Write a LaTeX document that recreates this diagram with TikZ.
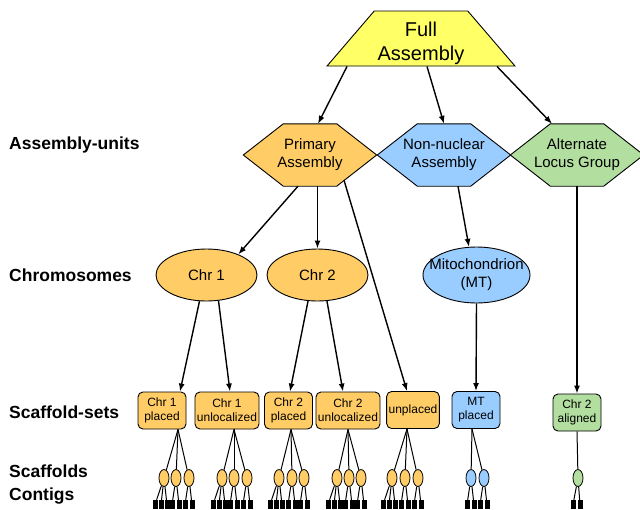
\documentclass[tikz,border=0pt]{standalone}
\usepackage{fontspec}
\setmainfont{Liberation Sans}
\usetikzlibrary{positioning,arrows.meta,shapes.geometric,backgrounds}
\definecolor{fullyellow}{HTML}{FFFF66}
\definecolor{primorange}{HTML}{FFCC66}
\definecolor{nucblue}{HTML}{99CCFF}
\definecolor{altgreen}{HTML}{B2DE9F}

\begin{document}
\begin{tikzpicture}[x=1pt, y=-1pt,
    every node/.style={align=center, inner sep=0pt},
    lvl/.style={font=\bfseries\fontsize{17.5}{21}\selectfont, anchor=west},
    full/.style={trapezium, trapezium angle=50, trapezium stretches=true,
                 draw=black, line width=0.9pt, fill=fullyellow,
                 minimum width=188, minimum height=55,
                 font=\fontsize{20}{24}\selectfont},
    unit/.style={minimum width=133, minimum height=62, font=\fontsize{15}{18}\selectfont},
    chrom/.style={ellipse, draw=black, line width=0.9pt, fill=#1, minimum width=101,
                  minimum height=52, font=\fontsize{15}{18}\selectfont},
    sset/.style={rectangle, rounded corners=5pt, draw=black, line width=0.9pt, fill=#1,
                 minimum width=48, minimum height=37, inner xsep=2,
                 font=\fontsize{12}{14}\selectfont},
    scaf/.style={ellipse, draw=black, line width=0.8pt, fill=#1, minimum width=10,
                 minimum height=17},
    ctg/.style={rectangle, fill=black, minimum width=5, minimum height=9},
    arr/.style={-{Latex[length=8pt, width=6pt]}, line width=1.4pt},
    fan/.style={line width=1pt}
  ]
  \useasboundingbox (0,0) rectangle (640,509);

  % ---- level names, left column ------------------------------------------
  \node[lvl] (lau) at (9,145) {Assembly-units};
  \node[lvl] (lchr) at (9,275) {Chromosomes};
  \node[lvl] (lss) at (9,412) {Scaffold-sets};
  \node[lvl] (lsc) at (9,471) {Scaffolds};
  \node[lvl] (lct) at (9,496) {Contigs};

  % ---- assembly and assembly-units ----------------------------------------
  \node[full] (fa) at (421,38.5) {\rule{0pt}{24pt}Full\\Assembly};
  \node[unit] (pa) at (310,155) {Primary\\Assembly};
  \node[unit] (nn) at (444,155) {Non-nuclear\\Assembly};
  \node[unit] (al) at (577,155) {Alternate\\Locus Group};
  \begin{scope}[on background layer]
    \foreach \u/\c in {pa/primorange, nn/nucblue, al/altgreen}
      \draw[line width=0.9pt, fill=\c] (\u.west) -- ([xshift=40]\u.north west)
        -- ([xshift=-40]\u.north east) -- (\u.east) -- ([xshift=-40]\u.south east)
        -- ([xshift=40]\u.south west) -- cycle;
  \end{scope}

  % ---- chromosomes --------------------------------------------------------
  \node[chrom=primorange] (c1) at (206.5,275) {Chr 1};
  \node[chrom=primorange] (c2) at (317.5,275) {Chr 2};
  \node[chrom=nucblue, minimum width=107, minimum height=56, inner xsep=-20pt]
    (mt) at (476.5,275) {Mitochondrion\\(MT)};

  % ---- scaffold-sets ------------------------------------------------------
  \node[sset=primorange] (s1) at (162,410.5) {Chr 1\\placed};
  \node[sset=primorange] (s2) at (227,410.5) {Chr 1\\unlocalized};
  \node[sset=primorange] (s3) at (288.5,410.5) {Chr 2\\placed};
  \node[sset=primorange] (s4) at (348,410.5) {Chr 2\\unlocalized};
  \node[sset=primorange] (un) at (413,410) {unplaced};
  \node[sset=nucblue] (mp) at (476,410) {MT\\placed};
  \node[sset=altgreen] (ca) at (577,412.5) {Chr 2\\aligned};

  % ---- arrows -------------------------------------------------------------
  \draw[arr] ([xshift=-74]fa.south) -- ([xshift=8]pa.north);
  \draw[arr] ([xshift=6]fa.south) -- (nn.north);
  \draw[arr] ([xshift=76]fa.south) -- ([xshift=-25]al.north);
  \draw[arr] ([xshift=-12]pa.south) -- (c1.33);
  \draw[arr] ([xshift=7.5]pa.south) -- (c2.north);
  \draw[arr] ([xshift=34,yshift=6]pa.south) -- ([xshift=-6]un.north);
  \draw[arr] ([xshift=14]nn.south) -- (mt.105);
  \draw[arr] (al.south) -- (ca.north);
  \draw[arr] (c1.255) -- ([xshift=18]s1.north);
  \draw[arr] (c1.295) -- ([xshift=3]s2.north);
  \draw[arr] (c2.250) -- ([xshift=1.5]s3.north);
  \draw[arr] (c2.290) -- ([xshift=-5]s4.north);
  \draw[arr] (mt.south) -- (mp.north);

  % ---- scaffolds and contigs: set / fan shift / colour / {x/{contig offsets}}
  \foreach \bx/\ax/\col/\scl in {
      s1/16/primorange/{164/{-9,-3,3},176/{-4,3},189/{-4,3}},
      s2/7/primorange/{222/{-9,-3,3},234/{-4,3},247/{-4,3}},
      s3/2.5/primorange/{279/{-9,-3,3},292/{-4,3},304/{-4,3}},
      s4/0/primorange/{337/{-9,-3,3},349/{-4,3},361/{-4,3}},
      un/-6/primorange/{392/{-9,-3,3},405/{-4,3},418/{-4,3}},
      mp/-4/nucblue/{471/{-4,3},484/{-4,3}},
      ca/0/altgreen/{578/{-5,2}}}
  {
    \foreach \x/\ds [count=\i] in \scl {
      \node[scaf=\col] (\bx sc\i) at (\x,478) {};
      \draw[fan] ([xshift=\ax]\bx.south) -- (\bx sc\i);
      \foreach \dx [count=\j] in \ds {
        \node[ctg] (\bx sc\i ct\j) at (\x+\dx,504.5) {};
        \draw[fan] (\bx sc\i) -- (\bx sc\i ct\j);
      }
    }
  }

\end{tikzpicture}
\end{document}
